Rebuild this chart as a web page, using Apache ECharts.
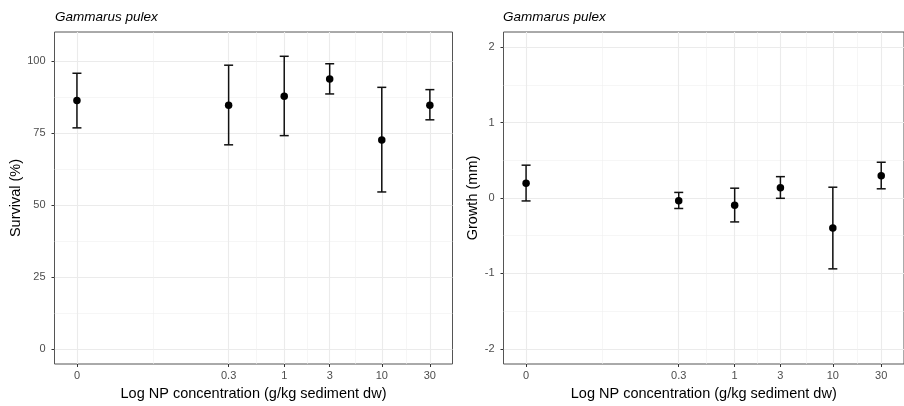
<!DOCTYPE html>
<html>
<head>
<meta charset="utf-8">
<script src="https://cdn.jsdelivr.net/npm/echarts@6/dist/echarts.min.js"></script>
<style>
html,body{margin:0;padding:0;background:#fff;}
#chart{width:904px;height:406px;}
</style>
</head>
<body>
<div id="chart"></div>
<script>
// Concentration categories and their positions on the log axis
var xLabels = ['0', '0.3', '1', '3', '10', '30'];
var xLog = [-2.125, -0.57, 0, 0.466, 1, 1.493];

// Survival (%)
var survMean = [86.4, 84.8, 87.9, 93.9, 72.7, 84.8];
var survLow  = [76.9, 71.0, 74.2, 88.7, 54.6, 79.7];
var survHigh = [95.9, 98.7, 101.8, 99.2, 91.0, 90.2];
var survTicks = [0, 25, 50, 75, 100];

// Growth (mm)
var growMean = [0.196, -0.035, -0.096, 0.135, -0.396, 0.296];
var growLow  = [-0.039, -0.139, -0.317, -0.004, -0.939, 0.122];
var growHigh = [0.435, 0.074, 0.130, 0.283, 0.143, 0.474];
var growTicks = [-2, -1, 0, 1, 2];

var panelTitle = 'Gammarus pulex';
var xTitle = 'Log NP concentration (g/kg sediment dw)';

function mids(a) {
  var r = [];
  for (var i = 0; i < a.length - 1; i++) r.push((a[i] + a[i + 1]) / 2);
  return r;
}
var xMinor = mids(xLog);
var FONT = '"Liberation Sans", Arial, sans-serif';
var XMIN = -2.355, XMAX = 1.725;

function xLabelFmt(v) {
  for (var i = 0; i < xLog.length; i++) if (Math.abs(xLog[i] - v) < 1e-6) return xLabels[i];
  return '';
}

function majorX(gi) {
  return {
    type: 'value', gridIndex: gi, min: XMIN, max: XMAX,
    name: xTitle, nameLocation: 'middle', nameGap: 22,
    nameTextStyle: {fontFamily: FONT, fontSize: 14.5, color: '#000'},
    axisLine: {show: false, onZero: false},
    axisTick: {show: true, length: 3, customValues: xLog, lineStyle: {color: '#333', width: 1}},
    axisLabel: {customValues: xLog, formatter: xLabelFmt, fontFamily: FONT, fontSize: 11, color: '#4d4d4d', margin: 6},
    splitLine: {show: true, lineStyle: {color: '#ebebeb', width: 1.1}}
  };
}
function minorX(gi) {
  return {
    type: 'value', gridIndex: gi, min: XMIN, max: XMAX,
    axisLine: {show: false, onZero: false},
    axisTick: {show: false, customValues: xMinor},
    axisLabel: {show: false},
    splitLine: {show: true, lineStyle: {color: '#f0f0f0', width: 0.6}}
  };
}
function majorY(gi, mn, mx, ticks, name, gap) {
  return {
    type: 'value', gridIndex: gi, min: mn, max: mx,
    name: name, nameLocation: 'middle', nameGap: gap, nameRotate: 90,
    nameTextStyle: {fontFamily: FONT, fontSize: 14.5, color: '#000'},
    axisLine: {show: false, onZero: false},
    axisTick: {show: true, length: 3, customValues: ticks, lineStyle: {color: '#333', width: 1}},
    axisLabel: {customValues: ticks, fontFamily: FONT, fontSize: 11, color: '#4d4d4d', margin: 9},
    splitLine: {show: true, lineStyle: {color: '#ebebeb', width: 1.1}}
  };
}
function minorY(gi, mn, mx, ticks) {
  return {
    type: 'value', gridIndex: gi, min: mn, max: mx,
    axisLine: {show: false, onZero: false},
    axisTick: {show: false, customValues: mids(ticks)},
    axisLabel: {show: false},
    splitLine: {show: true, lineStyle: {color: '#f0f0f0', width: 0.6}}
  };
}

function errData(lo, hi) {
  return xLog.map(function (x, i) { return [x, lo[i], hi[i]]; });
}
function ptData(m) {
  return xLog.map(function (x, i) { return [x, m[i]]; });
}
function renderErr(params, api) {
  var x = api.value(0);
  var p1 = api.coord([x, api.value(1)]);
  var p2 = api.coord([x, api.value(2)]);
  var w = 4.5;
  var st = {stroke: '#111', lineWidth: 1.5};
  return {
    type: 'group',
    children: [
      {type: 'line', shape: {x1: p1[0], y1: p1[1], x2: p2[0], y2: p2[1]}, style: st},
      {type: 'line', shape: {x1: p1[0] - w, y1: p1[1], x2: p1[0] + w, y2: p1[1]}, style: st},
      {type: 'line', shape: {x1: p2[0] - w, y1: p2[1], x2: p2[0] + w, y2: p2[1]}, style: st}
    ]
  };
}

var titleStyle = {fontFamily: FONT, fontSize: 13.5, fontStyle: 'italic', fontWeight: 'normal', color: '#000'};
var chart = echarts.init(document.getElementById('chart'), null, {renderer: 'canvas'});
chart.setOption({
  animation: false,
  backgroundColor: '#fff',
  title: [
    {text: panelTitle, left: 55, top: 10.5, padding: 0, textStyle: titleStyle},
    {text: panelTitle, left: 503, top: 10.5, padding: 0, textStyle: titleStyle}
  ],
  grid: [
    {left: 54.5, top: 32, width: 398, height: 336.5, show: true, borderColor: '#555', borderWidth: 1, backgroundColor: '#fff'},
    {left: 503.5, top: 32, width: 406.5, height: 336.5, show: true, borderColor: '#555', borderWidth: 1, backgroundColor: '#fff'}
  ],
  xAxis: [majorX(0), minorX(0), majorX(1), minorX(1)],
  yAxis: [
    majorY(0, -5.25, 110.25, survTicks, 'Survival (%)', 31),
    minorY(0, -5.25, 110.25, survTicks),
    majorY(1, -2.2, 2.2, growTicks, 'Growth (mm)', 22),
    minorY(1, -2.2, 2.2, growTicks)
  ],
  series: [
    {type: 'custom', xAxisIndex: 0, yAxisIndex: 0, renderItem: renderErr, data: errData(survLow, survHigh), z: 3},
    {type: 'scatter', xAxisIndex: 0, yAxisIndex: 0, data: ptData(survMean), symbolSize: 7.5, itemStyle: {color: '#000', opacity: 1}, z: 4},
    {type: 'custom', xAxisIndex: 2, yAxisIndex: 2, renderItem: renderErr, data: errData(growLow, growHigh), z: 3},
    {type: 'scatter', xAxisIndex: 2, yAxisIndex: 2, data: ptData(growMean), symbolSize: 7.5, itemStyle: {color: '#000', opacity: 1}, z: 4}
  ]
});
</script>
</body>
</html>
